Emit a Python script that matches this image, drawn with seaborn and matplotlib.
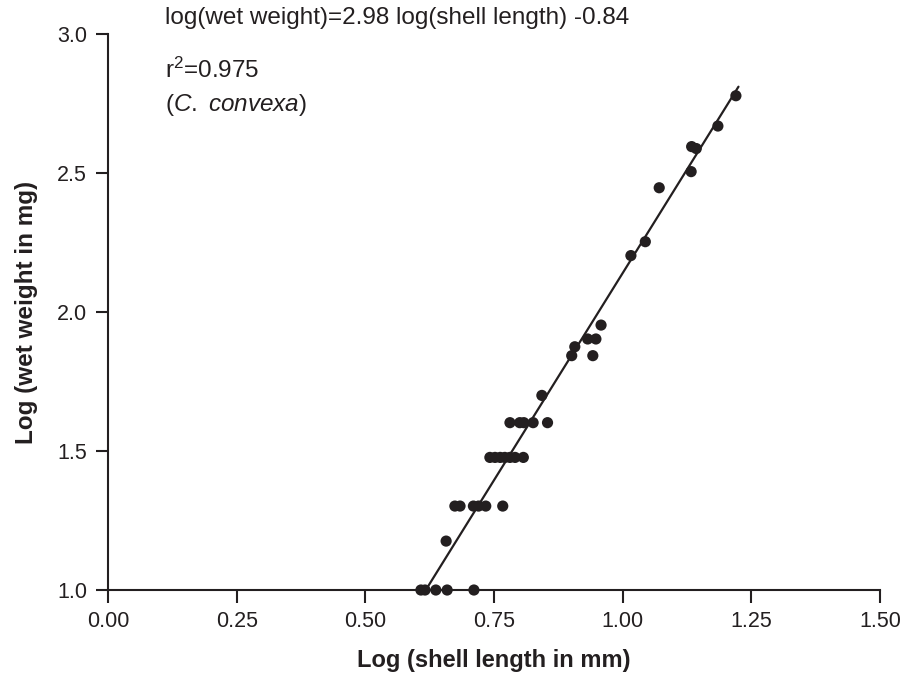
import numpy as np
import pandas as pd
import seaborn as sns
import matplotlib.pyplot as plt

# log shell length (mm) and log wet weight (mg)
log_length = [0.608, 0.616, 0.637, 0.659, 0.711,
              0.657,
              0.674, 0.684, 0.710, 0.720, 0.734, 0.767,
              0.742, 0.752, 0.762, 0.771, 0.781, 0.791, 0.807,
              0.781, 0.800, 0.808, 0.826, 0.854,
              0.843,
              0.901, 0.907, 0.932, 0.948, 0.942, 0.958,
              1.016, 1.044, 1.071, 1.133, 1.134, 1.143, 1.185, 1.220]
log_weight = [1.000, 1.000, 1.000, 1.000, 1.000,
              1.176,
              1.302, 1.302, 1.302, 1.302, 1.302, 1.302,
              1.477, 1.477, 1.477, 1.477, 1.477, 1.477, 1.477,
              1.602, 1.602, 1.602, 1.602, 1.602,
              1.700,
              1.843, 1.875, 1.903, 1.903, 1.843, 1.953,
              2.203, 2.253, 2.447, 2.505, 2.595, 2.588, 2.669, 2.778]

slope = 2.98
intercept = -0.84
fit_x = [0.617, 1.225]

x_ticks = [0.00, 0.25, 0.50, 0.75, 1.00, 1.25, 1.50]
y_ticks = [1.0, 1.5, 2.0, 2.5, 3.0]

sns.set_theme(style='ticks')
plt.rcParams['font.family'] = ['Liberation Sans', 'DejaVu Sans']
plt.rcParams['mathtext.fontset'] = 'custom'
plt.rcParams['mathtext.rm'] = 'Liberation Sans'
plt.rcParams['mathtext.it'] = 'Liberation Sans:italic'

fig = plt.figure(figsize=(9.05, 6.75), dpi=100)
ax = fig.add_axes([0.1193, 0.1259, 0.8531, 0.8237])

df = pd.DataFrame({'x': log_length, 'y': log_weight})
fit = pd.DataFrame({'x': fit_x, 'y': [slope * v + intercept for v in fit_x]})

sns.lineplot(data=fit, x='x', y='y', color='#231f20', linewidth=1.6, ax=ax)
sns.scatterplot(data=df, x='x', y='y', color='#231f20', s=65, edgecolor='none',
                ax=ax, clip_on=False, zorder=3)

ax.set_xlim(0, 1.5)
ax.set_ylim(1.0, 3.0)
ax.set_xticks(x_ticks)
ax.set_xticklabels([f'{t:.2f}' for t in x_ticks])
ax.set_yticks(y_ticks)
ax.set_yticklabels([f'{t:.1f}' for t in y_ticks])
sns.despine(ax=ax)
for s in ['left', 'bottom']:
    ax.spines[s].set_linewidth(1.5)
    ax.spines[s].set_color('#231f20')
ax.tick_params(length=9, width=1.5, color='#231f20', labelsize=15.5,
               labelcolor='#231f20', pad=6)

ax.set_xlabel('Log (shell length in mm)', fontsize=17, fontweight='bold',
              color='#231f20', labelpad=12)
ax.set_ylabel('Log (wet weight in mg)', fontsize=17.5, fontweight='bold',
              color='#231f20', labelpad=14)

txt = dict(fontsize=17.5, color='#231f20', va='center', ha='left', clip_on=False)
ax.text(0.11, 3.058, 'log(wet weight)=2.98 log(shell length) -0.84', **txt)
ax.text(0.11, 2.87, r'r$^{2}$=0.975', **txt)
ax.text(0.11, 2.745, r'($\it{C.}$ $\it{convexa}$)', **txt)

fig.savefig('out.png', dpi=100)
